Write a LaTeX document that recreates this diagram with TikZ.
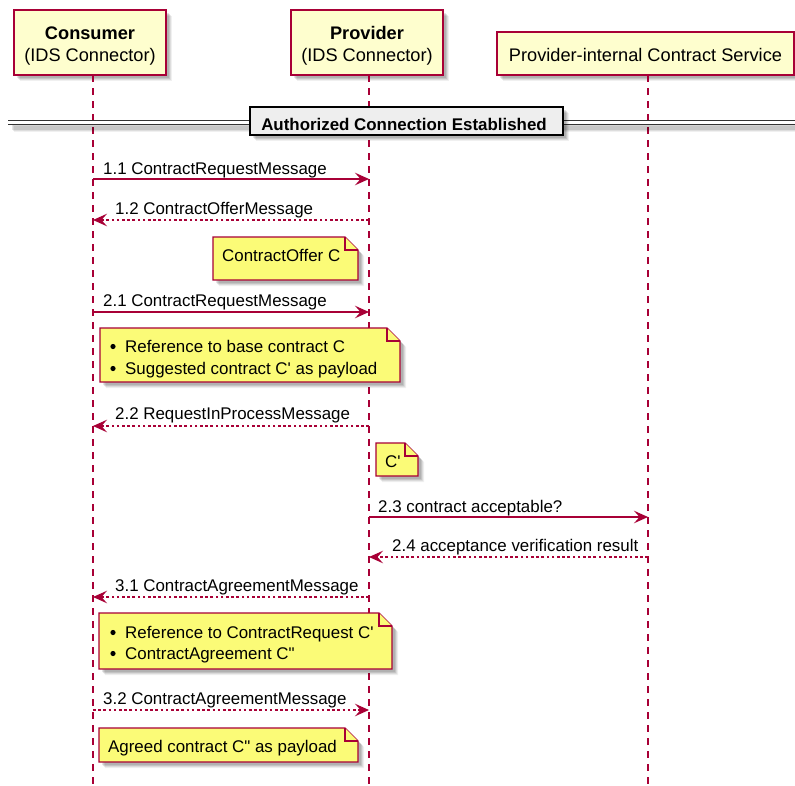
\documentclass[tikz,border=0pt]{standalone}
\usepackage{fontspec}
\setmainfont{Liberation Sans}
\usetikzlibrary{arrows.meta}

\definecolor{seqline}{HTML}{A80036}
\definecolor{partfill}{HTML}{FEFECE}
\definecolor{notefill}{HTML}{FBFB77}
\definecolor{divfill}{HTML}{EEEEEE}

\newcommand{\msgfont}{\fontsize{16.9}{20}\selectfont}
\newcommand{\partfont}{\fontsize{18.2}{22}\selectfont}

\tikzset{
  shadowlayer/.style={fill=black,draw=none,opacity=#1},
  participant/.style={draw=seqline,fill=partfill,line width=1.7pt,
    inner sep=0pt,outer sep=0pt,rectangle},
  lifeline/.style={draw=seqline,line width=1.3pt,dash pattern=on 6.5pt off 6.5pt},
  msg/.style={draw=seqline,line width=1.3pt,
    -{Stealth[length=14pt,width=12.5pt,inset=5.5pt]}},
  reply/.style={msg,dash pattern=on 2.6pt off 2.6pt},
  label/.style={anchor=base west,inner sep=0pt,font=\msgfont},
  ptext/.style={anchor=base,inner sep=0pt,font=\partfont},
  notebox/.style={draw=seqline,fill=notefill,line width=1.3pt,line join=miter},
  bulletdot/.style={fill=black,draw=none},
}

% soft drop shadow of a closed path, offset to the lower right
\newcommand{\softshadow}[1]{%
  \foreach \d/\o in {6/0.06,5/0.08,4/0.10,3/0.10} {
    \path[shadowlayer=\o,shift={(\d,\d)}] #1;
  }%
}
% rectangle shadow: left, top, right, bottom
\newcommand{\boxshadow}[4]{\softshadow{(#1,#2) rectangle (#3,#4)}}

% note with a folded top-right corner: left, top, right, bottom
\newcommand{\drawnote}[4]{%
  \softshadow{(#1,#2) -- (#3-13,#2) -- (#3,#2+13) -- (#3,#4) -- (#1,#4) -- cycle}
  \path[notebox] (#1,#2) -- (#3-13,#2) -- (#3,#2+13) -- (#3,#4) -- (#1,#4) -- cycle;
  \draw[notebox] (#3-13,#2) -- (#3-13,#2+13) -- (#3,#2+13);
}

\begin{document}
\begin{tikzpicture}[x=1pt,y=-1pt]
  \useasboundingbox (0,0) rectangle (795,785);
  \fill[white] (0,0) rectangle (795,785);

  % participants
  \boxshadow{14}{10}{166}{75}
  \boxshadow{291}{10}{443}{75}
  \boxshadow{497}{32}{794}{75}
  \node[participant,minimum width=152pt,minimum height=65pt] (cons) at (90,42.5) {};
  \node[participant,minimum width=152pt,minimum height=65pt] (prov) at (367,42.5) {};
  \node[participant,minimum width=297pt,minimum height=43pt] (serv) at (645.5,53.5) {};
  \node[ptext] (consA) at (90,39) {\bfseries Consumer};
  \node[ptext] (consB) at (90,61) {(IDS Connector)};
  \node[ptext] (provA) at (367,39) {\bfseries Provider};
  \node[ptext] (provB) at (367,61) {(IDS Connector)};
  \node[ptext] (servA) at (645.5,61) {Provider-internal Contract Service};

  % lifelines
  \coordinate (consX) at (93,0);
  \coordinate (provX) at (369,0);
  \coordinate (servX) at (648,0);
  \coordinate (bottom) at (0,785);
  \draw[lifeline] (consX |- cons.south) -- (consX |- bottom);
  \draw[lifeline] (provX |- prov.south) -- (provX |- bottom);
  \draw[lifeline] (servX |- serv.south) -- (servX |- bottom);

  % divider
  \coordinate (divL) at (8,122.5);
  \coordinate (divR) at (795,122.5);
  \foreach \d/\o in {6/0.06,5/0.08,4/0.10} {
    \fill[black,opacity=\o] ([shift={(\d,\d-3)}]divL) rectangle ([shift={(\d,\d+3)}]divR);
  }
  \draw[black!80,line width=1.2pt] ([yshift=2pt]divL) -- ([yshift=2pt]divR);
  \draw[black!80,line width=1.2pt] ([yshift=-2pt]divL) -- ([yshift=-2pt]divR);
  \boxshadow{250}{107}{563}{135}
  \node[draw=black,line width=2.4pt,fill=divfill,rectangle,
        minimum width=313pt,minimum height=28pt,inner sep=0pt] (div) at (406.5,121) {};
  \node[anchor=base,inner sep=0pt,font=\msgfont\bfseries] (divT) at (404,130)
        {Authorized Connection Established};

  % 1.1 / 1.2
  \coordinate (y11) at (0,179);
  \draw[msg] (consX |- y11) -- (provX |- y11);
  \node[label] (l11) at (103,174) {1.1 ContractRequestMessage};
  \coordinate (y12) at (0,220);
  \draw[reply] (provX |- y12) -- (consX |- y12);
  \node[label] (l12) at (115,214) {1.2 ContractOfferMessage};

  \drawnote{213}{237}{358}{280}
  \node[label] (nA) at (222,261) {ContractOffer C};

  % 2.1 / 2.2
  \coordinate (y21) at (0,312);
  \draw[msg] (consX |- y21) -- (provX |- y21);
  \node[label] (l21) at (103,306) {2.1 ContractRequestMessage};

  \drawnote{100}{328}{400}{382}
  \fill[bulletdot] (113,346.5) circle (2.6);
  \fill[bulletdot] (113,368.5) circle (2.6);
  \node[label] (nB1) at (125,352) {Reference to base contract C};
  \node[label] (nB2) at (125,374) {Suggested contract C\textquotesingle{} as payload};

  \coordinate (y22) at (0,426);
  \draw[reply] (provX |- y22) -- (consX |- y22);
  \node[label] (l22) at (115,419) {2.2 RequestInProcessMessage};

  \drawnote{376}{443}{418}{476}
  \node[label] (nC) at (385,467) {C\textquotesingle};

  % 2.3 / 2.4
  \coordinate (y23) at (0,517);
  \draw[msg] (provX |- y23) -- (servX |- y23);
  \node[label] (l23) at (378,512) {2.3 contract acceptable?};
  \coordinate (y24) at (0,557);
  \draw[reply] (servX |- y24) -- (provX |- y24);
  \node[label] (l24) at (392,551) {2.4 acceptance verification result};

  % 3.1 / 3.2
  \coordinate (y31) at (0,597);
  \draw[reply] (provX |- y31) -- (consX |- y31);
  \node[label] (l31) at (115,591) {3.1 ContractAgreementMessage};

  \drawnote{99}{613}{392}{669}
  \fill[bulletdot] (113,632.5) circle (2.6);
  \fill[bulletdot] (113,653.5) circle (2.6);
  \node[label] (nD1) at (125,638) {Reference to ContractRequest C\textquotesingle};
  \node[label] (nD2) at (125,659) {ContractAgreement C\textquotedbl};

  \coordinate (y32) at (0,710);
  \draw[reply] (consX |- y32) -- (provX |- y32);
  \node[label] (l32) at (103,704) {3.2 ContractAgreementMessage};

  \drawnote{99}{728}{358}{762}
  \node[label] (nE) at (108,752) {Agreed contract C\textquotedbl{} as payload};
\end{tikzpicture}
\end{document}
